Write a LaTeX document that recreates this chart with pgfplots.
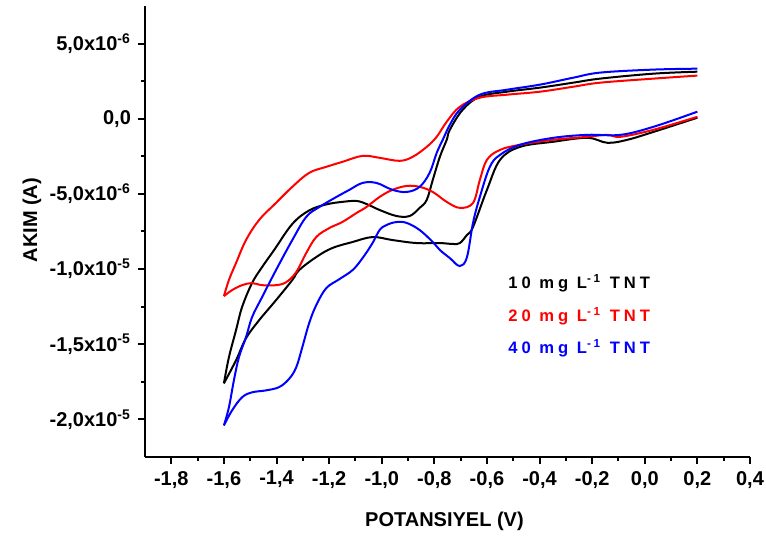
\documentclass[border=0pt]{standalone}
\usepackage{fontspec}
\setmainfont{Liberation Sans}
\usepackage{pgfplots}
\pgfplotsset{compat=1.18}

% currents in units of 1e-6 A
\begin{document}
\begin{tikzpicture}[font=\bfseries]
\begin{axis}[
  scale only axis, width=302.5pt, height=225.5pt,
  axis lines=left, axis line style={line width=1pt, -},
  xmin=-1.9, xmax=0.4, ymin=-22.5, ymax=7.5,
  clip=false,
  xtick={-1.8,-1.6,-1.4,-1.2,-1.0,-0.8,-0.6,-0.4,-0.2,0,0.2,0.4},
  xticklabels={{-1,8},{-1,6},{-1,4},{-1,2},{-1,0},{-0,8},{-0,6},{-0,4},{-0,2},{0,0},{0,2},{0,4}},
  ytick={-20,-15,-10,-5,0,5},
  yticklabels={{-2,0x10\textsuperscript{-5}},{-1,5x10\textsuperscript{-5}},{-1,0x10\textsuperscript{-5}},{-5,0x10\textsuperscript{-6}},{0,0},{5,0x10\textsuperscript{-6}}},
  minor x tick num=1, minor y tick num=1,
  tick align=outside, major tick length=3.5pt, minor tick length=2pt,
  every tick/.style={line width=1pt, black},
  ticklabel style={font=\fontsize{10}{12}\selectfont\bfseries},
  label style={font=\fontsize{10}{12}\selectfont\bfseries},
  xlabel={POTANSIYEL (V)},
  ylabel={AKIM (A)},
  xlabel style={at={(axis description cs:0.495,-0.142)}, anchor=center},
  ylabel style={at={(axis description cs:-0.187,0.525)}, anchor=center},
  every axis plot/.append style={line width=1pt, smooth, tension=0.6, line join=round},
]
\coordinate (O) at (rel axis cs:0,0);

% 10 mg/L
\addplot[black] coordinates {
(0.200,0.07) (0.034,-0.87) (-0.066,-1.40) (-0.142,-1.60) (-0.218,-1.27) (-0.348,-1.53)
(-0.474,-1.87) (-0.550,-2.73) (-0.600,-4.73) (-0.653,-7.20) (-0.676,-7.73) (-0.703,-8.27)
(-0.730,-8.33) (-0.779,-8.27) (-0.867,-8.27) (-0.959,-8.07) (-1.035,-7.87) (-1.111,-8.20)
(-1.188,-8.60) (-1.249,-9.20) (-1.314,-10.07) (-1.340,-10.73) (-1.402,-12.07) (-1.466,-13.40)
(-1.516,-14.60) (-1.554,-16.07) (-1.600,-17.60)
};
\addplot[black] coordinates {
(-1.600,-17.60) (-1.581,-15.87) (-1.554,-14.07) (-1.531,-12.53) (-1.493,-10.93) (-1.455,-9.87)
(-1.409,-8.73) (-1.340,-7.00) (-1.276,-6.10) (-1.211,-5.70) (-1.150,-5.53) (-1.096,-5.47)
(-1.058,-5.67) (-1.008,-6.07) (-0.944,-6.47) (-0.894,-6.47) (-0.856,-5.93) (-0.829,-5.40)
(-0.806,-4.07) (-0.779,-2.53) (-0.753,-1.40) (-0.741,-0.73) (-0.692,0.60) (-0.627,1.47)
(-0.524,1.80) (-0.398,2.07) (-0.272,2.40) (-0.169,2.67) (0.034,3.00) (0.200,3.13)
};

% 20 mg/L
\addplot[red] coordinates {
(0.200,0.13) (0.034,-0.73) (-0.092,-1.20) (-0.142,-1.07) (-0.218,-1.20) (-0.348,-1.40)
(-0.474,-1.73) (-0.550,-2.07) (-0.600,-2.73) (-0.627,-4.07) (-0.653,-5.60) (-0.703,-5.93)
(-0.753,-5.53) (-0.806,-4.87) (-0.856,-4.53) (-0.905,-4.47) (-0.959,-4.73) (-1.008,-5.20)
(-1.058,-5.87) (-1.096,-6.27) (-1.150,-6.87) (-1.199,-7.27) (-1.249,-7.87) (-1.287,-8.93)
(-1.325,-10.20) (-1.363,-10.87) (-1.402,-11.07) (-1.455,-11.07) (-1.493,-10.93) (-1.531,-11.07)
(-1.569,-11.40) (-1.600,-11.80)
};
\addplot[red] coordinates {
(-1.600,-11.80) (-1.581,-10.73) (-1.554,-9.60) (-1.516,-8.07) (-1.466,-6.73) (-1.402,-5.60)
(-1.340,-4.53) (-1.276,-3.60) (-1.211,-3.20) (-1.150,-2.87) (-1.073,-2.47) (-1.008,-2.60)
(-0.932,-2.80) (-0.882,-2.53) (-0.829,-1.87) (-0.791,-1.20) (-0.753,-0.20) (-0.703,0.80)
(-0.627,1.40) (-0.524,1.60) (-0.398,1.80) (-0.272,2.13) (-0.169,2.40) (0.034,2.67) (0.200,2.87)
};

% 40 mg/L
\addplot[blue] coordinates {
(0.200,0.47) (0.034,-0.53) (-0.092,-1.07) (-0.218,-1.07) (-0.348,-1.27) (-0.474,-1.73)
(-0.550,-2.40) (-0.589,-3.20) (-0.627,-5.20) (-0.653,-6.93) (-0.676,-9.20) (-0.703,-9.80)
(-0.741,-9.27) (-0.779,-8.73) (-0.806,-8.20) (-0.856,-7.40) (-0.905,-6.93) (-0.944,-6.87)
(-0.982,-7.07) (-1.008,-7.40) (-1.035,-8.27) (-1.073,-9.27) (-1.111,-10.07) (-1.161,-10.67)
(-1.211,-11.27) (-1.249,-12.40) (-1.276,-13.60) (-1.302,-15.20) (-1.325,-16.53) (-1.352,-17.30)
(-1.390,-17.85) (-1.440,-18.07) (-1.493,-18.20) (-1.531,-18.53) (-1.569,-19.40) (-1.600,-20.40)
};
\addplot[blue] coordinates {
(-1.600,-20.40) (-1.581,-19.20) (-1.562,-17.40) (-1.543,-15.87) (-1.516,-14.53) (-1.493,-13.20)
(-1.455,-11.87) (-1.402,-10.07) (-1.340,-8.07) (-1.287,-6.53) (-1.237,-5.87) (-1.172,-5.20)
(-1.123,-4.73) (-1.073,-4.27) (-1.020,-4.27) (-0.959,-4.73) (-0.905,-4.87) (-0.856,-4.53)
(-0.818,-3.60) (-0.791,-2.27) (-0.768,-1.40) (-0.741,-0.40) (-0.703,0.60) (-0.627,1.60)
(-0.524,1.93) (-0.398,2.27) (-0.272,2.73) (-0.169,3.07) (0.034,3.27) (0.200,3.33)
};

\begin{scope}[every node/.style={anchor=west, inner sep=0pt,
    font=\fontsize{8.3}{10}\selectfont\bfseries\addfontfeatures{LetterSpace=24}}]
\node[text=black] at (axis cs:-0.52,-10.93) {10 mg L\textsuperscript{-1} TNT};
\node[text=red]   at (axis cs:-0.52,-13.13) {20 mg L\textsuperscript{-1} TNT};
\node[text=blue]  at (axis cs:-0.52,-15.27) {40 mg L\textsuperscript{-1} TNT};
\end{scope}
\end{axis}
\pgfresetboundingbox
\path (O) ++(-72.5pt,-41pt) rectangle ++(383pt,269.5pt);
\end{tikzpicture}
\end{document}
